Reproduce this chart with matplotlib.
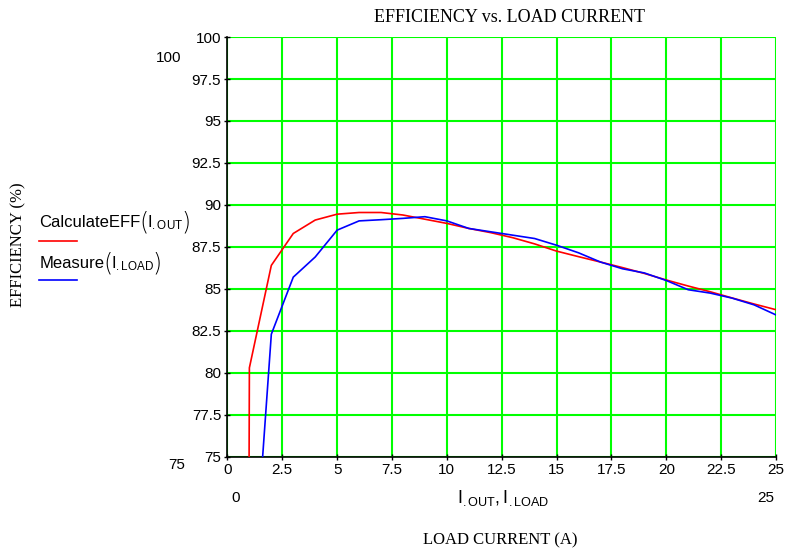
import numpy as np
import matplotlib
matplotlib.use('Agg')
import matplotlib.pyplot as plt
from matplotlib.offsetbox import TextArea, HPacker, AnnotationBbox

plt.rcParams['font.family'] = ['Liberation Sans', 'DejaVu Sans']
plt.rcParams['mathtext.fontset'] = 'custom'
plt.rcParams['mathtext.rm'] = 'Liberation Sans'
plt.rcParams['mathtext.it'] = 'Liberation Sans'

# calculated efficiency vs output current
i_out = [0.95, 1.0, 2, 3, 4, 5, 6, 7, 8, 9, 10, 11, 12, 13, 14, 15, 16, 17, 18, 19, 20, 21, 22, 23, 24, 25]
eff_calc = [60.0, 80.3, 86.4, 88.3, 89.1, 89.45, 89.55, 89.55, 89.4, 89.15, 88.9, 88.6, 88.35, 88.05, 87.68,
            87.25, 86.92, 86.6, 86.27, 85.92, 85.53, 85.17, 84.83, 84.46, 84.1, 83.76]

# measured efficiency vs load current
i_load = [1.55, 2, 3, 4, 5, 6, 7, 8, 9, 10, 11, 12, 13, 14, 15, 16, 17, 18, 19, 20, 21, 22, 23, 24, 25]
eff_meas = [74.0, 82.3, 85.7, 86.9, 88.5, 89.05, 89.12, 89.2, 89.3, 89.05, 88.6, 88.4, 88.2, 88.0, 87.6,
            87.15, 86.6, 86.2, 85.95, 85.5, 84.95, 84.75, 84.45, 84.05, 83.45]

x_ticks = np.arange(0, 25.1, 2.5)
y_ticks = np.arange(75, 100.1, 2.5)


def fmt(v):
    return f'{v:g}'


def func_label(fig, x, y, name, arg):
    # name( arg ) with tall parentheses like the worksheet
    parts = [TextArea(name, textprops=dict(fontsize=12)),
             TextArea('(', textprops=dict(fontsize=17, family='DejaVu Sans', fontweight='light')),
             TextArea(arg, textprops=dict(fontsize=12)),
             TextArea(')', textprops=dict(fontsize=17, family='DejaVu Sans', fontweight='light'))]
    box = HPacker(children=parts, align='center', pad=0, sep=-1)
    ab = AnnotationBbox(box, (x, y), xycoords='figure fraction', box_alignment=(0, 0.5), frameon=False, pad=0)
    fig.add_artist(ab)


fig = plt.figure(figsize=(7.87, 5.53), dpi=100)
ax = fig.add_axes([0.289, 0.174, 0.697, 0.759])

ax.plot(i_out, eff_calc, color='#ff0000', lw=1.2, zorder=3)
ax.plot(i_load, eff_meas, color='#0000ff', lw=1.2, zorder=3)

ax.set_xlim(0, 25)
ax.set_ylim(75, 100)
ax.set_xticks(x_ticks)
ax.set_xticklabels([fmt(v) for v in x_ticks])
ax.set_yticks(y_ticks)
ax.set_yticklabels([fmt(v) for v in y_ticks])
ax.grid(True, color='#00ff00', lw=1.5)
ax.set_axisbelow(True)
ax.tick_params(direction='inout', length=5, width=1, labelsize=11, pad=2)
for s in ['top', 'right']:
    ax.spines[s].set_visible(False)
for s in ['left', 'bottom']:
    ax.spines[s].set_linewidth(1.2)

# titles in serif
serif = ['Liberation Serif', 'DejaVu Serif']
fig.text(0.647, 0.969, 'EFFICIENCY vs. LOAD CURRENT', ha='center', va='center', family=serif, fontsize=13)
fig.text(0.636, 0.022, 'LOAD CURRENT (A)', ha='center', va='center', family=serif, fontsize=12)
fig.text(0.024, 0.557, 'EFFICIENCY (%)', ha='center', va='center', rotation=90, family=serif, fontsize=12)

# range annotations
fig.text(0.231, 0.895, '100', ha='right', va='center', fontsize=11)
fig.text(0.235, 0.159, '75', ha='right', va='center', fontsize=11)
fig.text(0.300, 0.099, '0', ha='center', va='center', fontsize=11)
fig.text(0.973, 0.099, '25', ha='center', va='center', fontsize=11)
fig.text(0.639, 0.099, r'$\mathrm{I}_{\mathrm{.OUT}}\mathrm{, I}_{\mathrm{.LOAD}}$', ha='center', va='center', fontsize=13)

# legend block
func_label(fig, 0.050, 0.598, 'CalculateEFF', r'$\mathrm{I}_{\mathrm{.OUT}}$')
fig.add_artist(plt.Line2D([0.049, 0.098], [0.564, 0.564], color='#ff0000', lw=1.2))
func_label(fig, 0.050, 0.524, 'Measure', r'$\mathrm{I}_{\mathrm{.LOAD}}$')
fig.add_artist(plt.Line2D([0.049, 0.098], [0.494, 0.494], color='#0000ff', lw=1.2))

fig.savefig('out.png', dpi=100)
